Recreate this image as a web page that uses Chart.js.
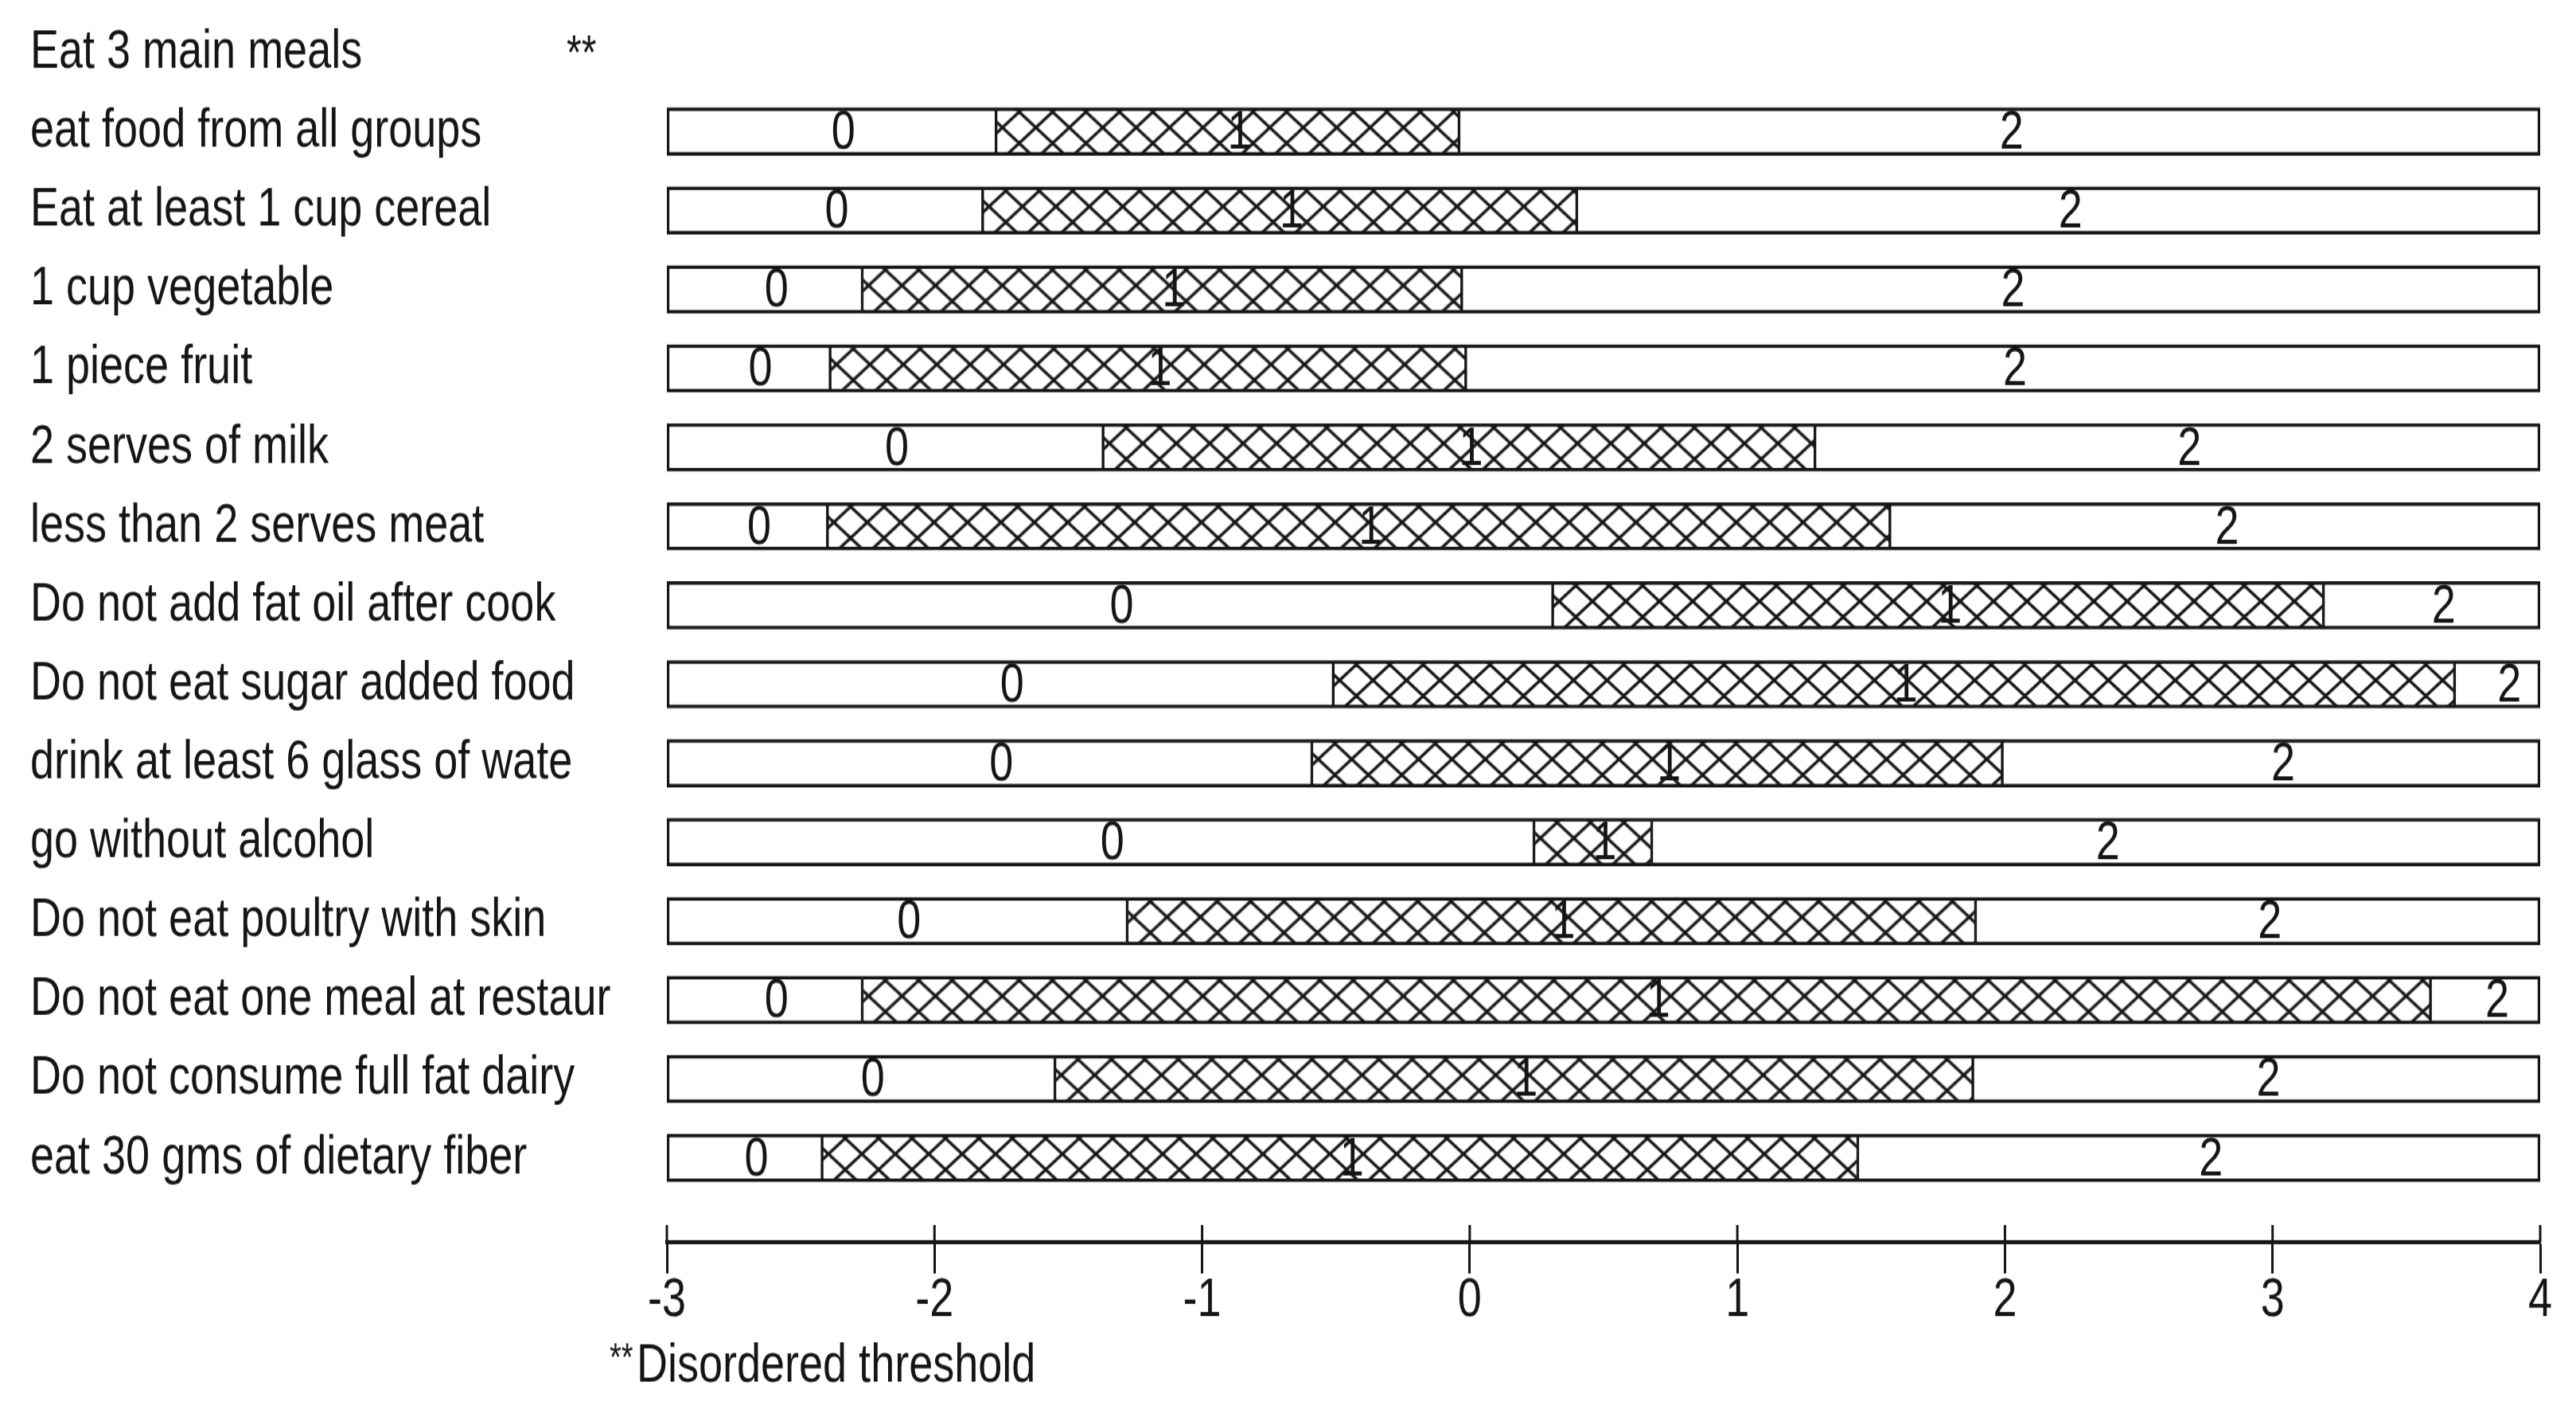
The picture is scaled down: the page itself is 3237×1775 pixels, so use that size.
<!DOCTYPE html>
<html>
<head>
<meta charset="utf-8">
<script src="https://cdn.jsdelivr.net/npm/chart.js@4"></script>
<style>
html,body{margin:0;padding:0;background:#fff;overflow:hidden;}
#c{display:block;width:3237px;height:1775px;}
</style>
</head>
<body>
<canvas id="c" width="3237" height="1398" style="width:3237px;height:1775px"></canvas>
<script>
// ---- data ----
const categories = [
  'Eat 3 main meals',
  'eat food from all groups',
  'Eat at least 1 cup cereal',
  '1 cup vegetable',
  '1 piece fruit',
  '2 serves of milk',
  'less than 2 serves meat',
  'Do not add fat oil after cook',
  'Do not eat sugar added food',
  'drink at least 6 glass of wate',
  'go without alcohol',
  'Do not eat poultry with skin',
  'Do not eat one meal at restaur',
  'Do not consume full fat dairy',
  'eat 30 gms of dietary fiber'
];
// boundary between category 0 and 1, and between 1 and 2 (null = not drawn)
const threshold1 = [null, -1.77, -1.82, -2.27, -2.39, -1.37, -2.40, 0.31, -0.51, -0.59, 0.24, -1.28, -2.27, -1.55, -2.42];
const threshold2 = [null, -0.04, 0.40, -0.03, -0.015, 1.29, 1.57, 3.19, 3.68, 1.99, 0.68, 1.89, 3.59, 1.88, 1.45];
const disordered = [true, false, false, false, false, false, false, false, false, false, false, false, false, false, false];
const scoreMin = -3;
const scoreMax = 4;
const xTickStep = 1;
const segmentLabels = ['0', '1', '2'];
const markerText = '**';
const footnoteText = 'Disordered threshold';

// ---- styling ----
// the canvas is drawn 1398 px tall and shown 1775 px tall (narrow, tall lettering like the original)
const FONT = "'Liberation Sans', Arial, sans-serif";
const INK = '#151515';
const LABEL_SIZE = 54;

function hatchTile() {
  const w = 42, h = 31;
  const c = document.createElement('canvas');
  c.width = w; c.height = h;
  const g = c.getContext('2d');
  g.fillStyle = '#ffffff';
  g.fillRect(0, 0, w, h);
  g.strokeStyle = '#151515';
  g.lineWidth = 3.2;
  g.beginPath();
  for (const dx of [-w, 0, w]) {
    for (const dy of [-h, 0, h]) {
      g.moveTo(dx, dy); g.lineTo(dx + w, dy + h);
      g.moveTo(dx + w, dy); g.lineTo(dx, dy + h);
    }
  }
  g.stroke();
  return c;
}
const tile = hatchTile();

function seg(k) {
  const data = [];
  categories.forEach((c, i) => {
    if (threshold1[i] == null) return;
    const b = [scoreMin, threshold1[i], threshold2[i], scoreMax];
    data.push({ y: i, x: [b[k], b[k + 1]] });
  });
  return data;
}

const canvas = document.getElementById('c');
const mainCtx = canvas.getContext('2d');

function hatchFill(context) {
  const chart = context.chart;
  const raw = context.raw;
  const p = mainCtx.createPattern(tile, 'repeat');
  if (raw && chart.scales.x && chart.scales.y) {
    const x0 = chart.scales.x.getPixelForValue(raw.x[0]);
    const yc = chart.scales.y.getPixelForValue(raw.y);
    if (isFinite(x0) && isFinite(yc) && p.setTransform) {
      p.setTransform(new DOMMatrix([1, 0, 0, 1, x0 + 8, yc - 4]));
    }
  }
  return p;
}

const common = {
  barThickness: 47,
  grouped: false,
  borderColor: INK,
  borderSkipped: false
};

const annot = {
  id: 'annot',
  afterDatasetsDraw(chart) {
    const { ctx, scales: { x, y } } = chart;
    ctx.save();
    // segment labels
    ctx.font = `${LABEL_SIZE}px ${FONT}`;
    ctx.fillStyle = INK;
    ctx.textBaseline = 'middle';
    ctx.textAlign = 'left';
    categories.forEach((c, i) => {
      if (threshold1[i] == null) return;
      const b = [scoreMin, threshold1[i], threshold2[i], scoreMax];
      for (let k = 0; k < 3; k++) {
        const xm = (x.getPixelForValue(b[k]) + x.getPixelForValue(b[k + 1])) / 2;
        ctx.fillText(segmentLabels[k], xm, y.getPixelForValue(i) + 2);
      }
    });
    // upper part of x ticks
    ctx.strokeStyle = INK;
    ctx.lineWidth = 3;
    x.ticks.forEach(t => {
      const px = x.getPixelForValue(t.value);
      ctx.beginPath();
      ctx.moveTo(px, x.top - 17);
      ctx.lineTo(px, x.top);
      ctx.stroke();
    });
    // disordered marker
    ctx.textBaseline = 'alphabetic';
    ctx.font = `48px ${FONT}`;
    categories.forEach((c, i) => {
      if (disordered[i]) ctx.fillText(markerText, 712, y.getPixelForValue(i) + 16);
    });
    // footnote
    ctx.font = `38px ${FONT}`;
    ctx.fillText(markerText, 766, 1356);
    ctx.font = `${LABEL_SIZE}px ${FONT}`;
    ctx.fillText(footnoteText, 800, 1367);
    ctx.restore();
  }
};

new Chart(mainCtx, {
  type: 'bar',
  data: {
    datasets: [
      Object.assign({ label: segmentLabels[0], data: seg(0), backgroundColor: '#ffffff',
        borderWidth: { top: 3.5, bottom: 3.5, left: 3.5, right: 2 } }, common),
      Object.assign({ label: segmentLabels[1], data: seg(1), backgroundColor: hatchFill,
        borderWidth: { top: 3.5, bottom: 3.5, left: 2, right: 2 } }, common),
      Object.assign({ label: segmentLabels[2], data: seg(2), backgroundColor: '#ffffff',
        borderWidth: { top: 3.5, bottom: 3.5, left: 2, right: 3.5 } }, common)
    ]
  },
  options: {
    indexAxis: 'y',
    responsive: false,
    animation: false,
    events: [],
    layout: { padding: { left: 38, top: 13, right: 45, bottom: 69 } },
    plugins: { legend: { display: false }, tooltip: { enabled: false } },
    scales: {
      x: {
        type: 'linear',
        min: scoreMin,
        max: scoreMax,
        ticks: { stepSize: xTickStep, color: INK, font: { family: FONT, size: LABEL_SIZE, lineHeight: 1 }, padding: 0, maxRotation: 0, autoSkip: false },
        grid: { drawOnChartArea: false, drawTicks: true, tickLength: 31, tickWidth: 3, tickColor: INK },
        border: { display: true, color: INK, width: 4 },
        afterFit(s) { s.height = 100; s.paddingLeft = 0; s.paddingRight = 0; }
      },
      y: {
        type: 'linear',
        offset: false,
        reverse: true,
        min: -0.5,
        max: 15.067,
        afterBuildTicks(s) { s.ticks = categories.map((_, i) => ({ value: i })); },
        ticks: { callback: (v, i) => categories[i], crossAlign: 'far', color: INK, font: { family: FONT, size: LABEL_SIZE }, autoSkip: false, padding: 0 },
        grid: { display: false, offset: false },
        border: { display: false },
        afterFit(s) { s.width = 800; s.paddingTop = 0; s.paddingBottom = 0; }
      }
    }
  },
  plugins: [annot]
});
</script>
</body>
</html>
